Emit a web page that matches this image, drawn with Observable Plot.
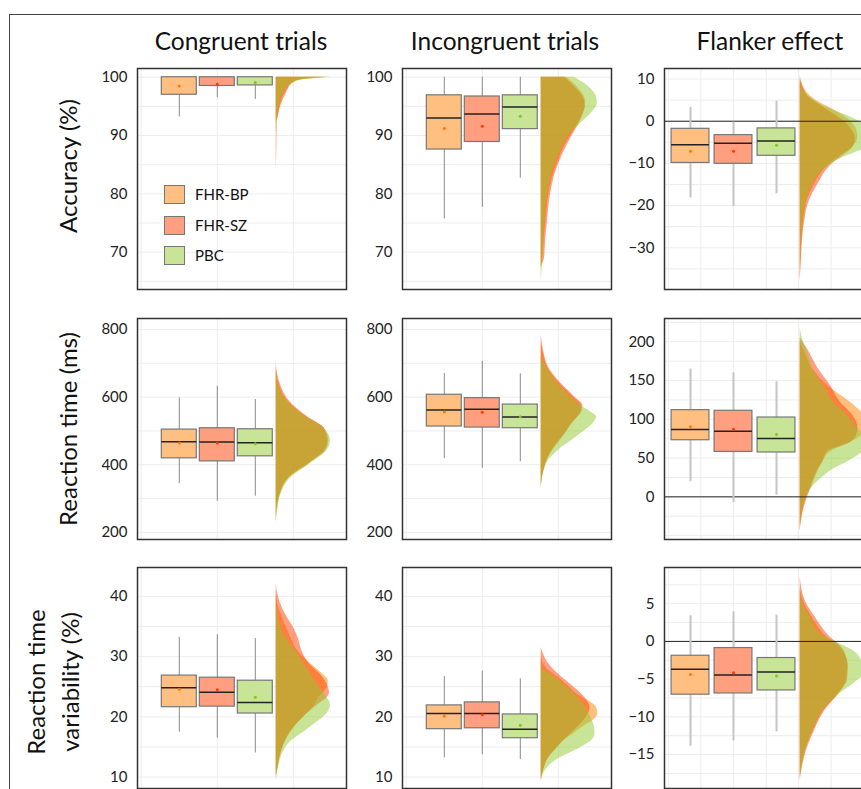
<!DOCTYPE html>
<html><head><meta charset="utf-8">
<script src="https://cdn.jsdelivr.net/npm/d3@7"></script>
<script src="https://cdn.jsdelivr.net/npm/@observablehq/plot@0.6"></script>
<style>
body{margin:0;background:#fff;}
#fig{position:relative;width:861px;height:789px;overflow:hidden;background:#fff;font-family:Lato,"Open Sans",sans-serif;color:#111;}
.fl{position:absolute;background:#444;}
.title{position:absolute;font-size:24.5px;line-height:26px;text-align:center;width:280px;white-space:nowrap;}
.rowlab{position:absolute;font-size:24px;text-align:center;white-space:nowrap;transform:rotate(-90deg);}
.pnl{position:absolute;}
.pnl svg{max-width:none !important;}
.legsq{position:absolute;width:19px;height:17px;border:1px solid #777;}
.legtx{position:absolute;font-size:15px;line-height:18px;color:#111;}
</style></head><body><div id="fig"></div>
<script>
// ---------- data ----------
const groups = ["FHR-BP", "FHR-SZ", "PBC"];
const colTitles = ["Congruent trials", "Incongruent trials", "Flanker effect"];
const rowTitles = [["Accuracy (%)"], ["Reaction time (ms)"], ["Reaction time", "variability (%)"]];

// box stats per group: [lowWhisker, q1, median, q3, highWhisker, mean]
const box_acc_con = [[93.2,97.0,100,100,100,98.5],[96.5,98.5,100,100,100,98.8],[96.2,98.6,100,100,100,99.1]];
const box_acc_inc = [[75.7,87.6,93.0,96.9,100,91.2],[77.7,88.9,93.7,96.7,100,91.6],[82.7,91.1,94.9,96.9,100,93.3]];
const box_acc_fla = [[-18.2,-9.9,-5.6,-1.8,3.3,-7.1],[-20.2,-10.1,-5.2,-3.3,-0.2,-7.1],[-17.2,-8.2,-4.7,-1.7,4.75,-5.7]];
const box_rt_con = [[344,419,468,504,598,464],[292,410,467,508,632,464],[307,425,465,505,593,462]];
const box_rt_inc = [[418,513,562,607,670,556],[390,510,564,597,706,555],[409,508,541,578,669,542]];
const box_rt_fla = [[19.4,73,86.9,111.8,164.8,90.3],[-7.3,58,84.7,111,160,87.3],[2.2,57.2,75.3,102.3,148.4,80.4]];
const box_cv_con = [[17.45,21.6,24.85,26.85,33.2,24.6],[16.45,21.7,24.1,26.5,33.65,24.5],[14.0,20.55,22.4,26.0,33.0,23.25]];
const box_cv_inc = [[13.2,17.95,20.55,21.9,26.7,20.1],[13.7,18.1,20.55,22.4,27.6,20.35],[12.9,16.45,17.95,20.4,26.3,18.6]];
const box_cv_fla = [[-13.9,-7.06,-3.7,-1.9,3.4,-4.4],[-13.2,-6.9,-4.45,-0.88,3.93,-4.15],[-12.0,-6.5,-4.05,-2.2,3.5,-4.6]];

// density profiles (value, relative density) per group: BP, SZ, PBC
const dens_acc_con = [
  [[100,1.0],[99.5,0.42],[99,0.3],[98,0.2],[97,0.14],[96,0.1],[95,0.07],[94,0.05],[93,0.03],[92.5,0]],
  [[100,0.9],[99.5,0.4],[99,0.3],[98,0.22],[97,0.17],[96,0.12],[95,0.08],[94,0.05],[93,0.03],[92,0.015],[88,0.012],[84,0]],
  [[100,1.0],[99.5,0.45],[99,0.3],[98,0.18],[97,0.12],[96,0.08],[95,0.05],[94,0.03],[93,0.02],[91,0.012],[90.5,0]]
];
const dens_acc_inc = [
  [[100,0.46],[98,0.68],[96,0.8],[95,0.8],[94,0.76],[92,0.66],[90,0.53],[88,0.41],[86,0.32],[84,0.24],[82,0.18],[80,0.14],[78,0.11],[75,0.08],[72,0.05],[69,0.03],[67,0]],
  [[100,0.42],[98,0.64],[96,0.78],[95,0.79],[94,0.77],[92,0.68],[90,0.56],[88,0.45],[86,0.35],[84,0.27],[82,0.21],[80,0.17],[78,0.14],[75,0.11],[72,0.08],[69,0.06],[67.5,0]],
  [[100,0.6],[98,0.9],[96.5,1.0],[95.5,1.01],[94,0.92],[92,0.7],[90,0.5],[88,0.38],[86,0.29],[84,0.21],[82,0.16],[80,0.12],[78,0.09],[75,0.065],[72,0.045],[68,0.025],[65,0]]
];
const dens_acc_fla = [
  [[11,0],[9,0.03],[7,0.1],[5,0.25],[3,0.5],[1,0.72],[0,0.8],[-2,0.9],[-4,0.92],[-6,0.84],[-8,0.66],[-10,0.48],[-12,0.35],[-14,0.26],[-16,0.19],[-18,0.13],[-20,0.09],[-23,0.06],[-26,0.04],[-30,0.02],[-34,0.01],[-38,0]],
  [[10,0],[8,0.05],[6,0.12],[4,0.3],[2,0.5],[0,0.7],[-2,0.82],[-4,0.88],[-6,0.85],[-8,0.7],[-10,0.52],[-12,0.4],[-14,0.32],[-16,0.24],[-18,0.17],[-20,0.12],[-23,0.08],[-26,0.05],[-30,0.03],[-34,0.015],[-38,0]],
  [[9,0],[7,0.07],[5,0.22],[3,0.46],[1,0.8],[-1,1.05],[-3,1.2],[-4,1.22],[-5,1.18],[-7,0.95],[-9,0.62],[-11,0.42],[-13,0.28],[-15,0.2],[-17,0.14],[-20,0.08],[-24,0.04],[-30,0.015],[-36,0]]
];
const dens_rt_con = [
  [[690,0],[640,0.05],[590,0.2],[541,0.55],[507,0.87],[472,0.95],[443,0.9],[404,0.58],[364,0.24],[315,0.07],[250,0]],
  [[703,0],[640,0.07],[590,0.23],[541,0.57],[507,0.87],[472,0.93],[443,0.88],[404,0.6],[364,0.25],[315,0.08],[235,0]],
  [[680,0],[640,0.04],[590,0.19],[541,0.54],[507,0.86],[472,0.98],[443,0.92],[404,0.62],[364,0.28],[315,0.09],[270,0.03],[227,0]]
];
const dens_rt_inc = [
  [[760,0],[720,0.05],[689,0.11],[640,0.33],[600,0.58],[575,0.72],[560,0.72],[541,0.66],[520,0.54],[492,0.43],[472,0.32],[450,0.22],[433,0.16],[410,0.09],[393,0.06],[370,0.03],[330,0]],
  [[785,0],[740,0.04],[689,0.13],[640,0.36],[600,0.61],[575,0.75],[560,0.74],[541,0.66],[520,0.55],[492,0.43],[472,0.34],[450,0.24],[433,0.17],[410,0.1],[393,0.07],[370,0.03],[340,0]],
  [[720,0],[689,0.09],[640,0.3],[600,0.54],[575,0.72],[555,0.9],[541,1.0],[525,0.95],[505,0.82],[492,0.71],[472,0.55],[450,0.36],[433,0.25],[410,0.12],[390,0.06],[360,0.02],[320,0]]
];
const dens_rt_fla = [
  [[200,0],[185,0.08],[165,0.2],[144,0.43],[122,0.8],[105,1.02],[95,1.08],[85,1.05],[70,0.8],[58,0.48],[45,0.36],[36,0.28],[25,0.22],[15,0.18],[0,0.1],[-15,0.05],[-30,0.02],[-45,0]],
  [[205,0],[190,0.12],[165,0.29],[144,0.48],[122,0.64],[105,0.84],[90,0.92],[80,0.9],[70,0.8],[58,0.43],[45,0.36],[36,0.3],[25,0.24],[15,0.19],[0,0.12],[-15,0.06],[-30,0.02],[-45,0]],
  [[217,0],[200,0.05],[185,0.12],[165,0.2],[144,0.37],[122,0.53],[105,0.75],[88,0.92],[78,1.05],[68,1.1],[58,1.0],[45,0.75],[36,0.53],[25,0.35],[15,0.22],[0,0.1],[-15,0.04],[-40,0]]
];
const dens_cv_con = [
  [[41,0],[38,0.05],[36.5,0.11],[33,0.27],[31,0.38],[29,0.6],[27,0.85],[26,0.94],[25,0.92],[24,0.85],[23,0.75],[22,0.7],[21,0.6],[20,0.5],[18,0.3],[16,0.16],[14,0.08],[12,0.04],[10,0]],
  [[42,0],[39,0.07],[36.5,0.2],[35,0.3],[33,0.4],[31,0.46],[29,0.58],[27,0.8],[25,0.94],[24,0.96],[23,0.9],[22,0.75],[21,0.62],[20,0.5],[18,0.3],[16,0.17],[14,0.09],[12,0.04],[10,0]],
  [[40,0],[36,0.05],[33,0.18],[31,0.34],[28,0.56],[26,0.7],[24.4,0.82],[23,0.93],[22,0.98],[21,0.95],[20,0.86],[19,0.72],[17.5,0.5],[16,0.27],[14,0.12],[12,0.05],[10,0.01],[9.5,0]]
];
const dens_cv_inc = [
  [[30,0],[28,0.1],[26.6,0.3],[25,0.5],[23.8,0.64],[22.5,0.88],[21.5,1.0],[20.5,1.02],[19.5,0.95],[18.5,0.78],[17,0.55],[16,0.4],[15,0.3],[13,0.12],[11,0.04],[9.5,0]],
  [[31.5,0],[29,0.12],[26.6,0.37],[25,0.58],[23.8,0.73],[22.5,0.84],[21.5,0.88],[20.5,0.85],[19.5,0.78],[17.5,0.57],[16,0.4],[15,0.3],[13,0.12],[11,0.04],[9.5,0]],
  [[28,0],[26.6,0.25],[25,0.45],[23.8,0.6],[22.5,0.72],[21.6,0.8],[20.5,0.86],[19.4,0.92],[18.3,0.96],[17.2,0.97],[16,0.9],[15,0.73],[14,0.52],[13,0.3],[12,0.16],[11,0.07],[10,0.02],[9.2,0]]
];
const dens_cv_fla = [
  [[7,0],[5.4,0.05],[3.2,0.19],[1,0.37],[-1.2,0.68],[-3.4,0.77],[-5.2,0.75],[-7,0.6],[-9.2,0.37],[-11.8,0.21],[-14.5,0.08],[-16.5,0.03],[-18,0]],
  [[8.6,0],[5.4,0.08],[3.2,0.24],[1,0.43],[-1.2,0.7],[-3.4,0.76],[-5.2,0.74],[-7,0.61],[-9.2,0.39],[-11.8,0.23],[-14.5,0.1],[-16.5,0.04],[-18.5,0]],
  [[7,0],[5,0.04],[3.2,0.17],[1,0.33],[0,0.55],[-1.2,0.84],[-2.5,0.98],[-3.4,1.02],[-4.5,1.0],[-5.2,0.91],[-7,0.62],[-9.2,0.36],[-11.8,0.2],[-14.5,0.08],[-16.5,0.03],[-18,0]]
];

// y-axis domains and tick labels
const dom_acc = [63.6, 101.5], ticks_acc = [70, 80, 90, 100];
const dom_acc_fla = [-39.9, 12.5], ticks_acc_fla = [-30, -20, -10, 0, 10];
const dom_rt = [179, 832.5], ticks_rt = [200, 400, 600, 800];
const dom_rt_fla = [-55, 230], ticks_rt_fla = [0, 50, 100, 150, 200];
const dom_cv = [8.1, 44.8], ticks_cv = [10, 20, 30, 40];
const dom_cv_fla = [-19.5, 9.8], ticks_cv_fla = [-15, -10, -5, 0, 5];

// ---------- style ----------
const violinColors = ["#ff8000", "#ff4000", "#91c92d"];
const boxColors = ["#ffbf80", "#ff9f7f", "#c8e496"];
const dotColors = ["#ff7a00", "#ff3a00", "#86c025"];
const colX = [137, 402, 664], colW = [209, 209, 236];
const rowY = [68, 318, 567], PH = 221;
const VB = 3.55, VW = 1.46;

const fig = document.getElementById("fig");
function add(html) { const d = document.createElement("div"); d.innerHTML = html; fig.appendChild(d.firstElementChild); }

// outer frame lines
add(`<div class="fl" style="left:9px;top:14px;width:900px;height:1px"></div>`);
add(`<div class="fl" style="left:9px;top:14px;width:1px;height:800px"></div>`);

// column titles
const titleCx = [241, 505, 770];
colTitles.forEach((t, i) => add(`<div class="title" style="left:${titleCx[i] - 140}px;top:28px">${t}</div>`));

// row labels
const rowCx = [68, 68, 53], rowCy = [166, 429, 682];
rowTitles.forEach((lines, i) => {
  const w = 260, lh = 34, h = lines.length * lh;
  add(`<div class="rowlab" style="left:${rowCx[i] - w / 2}px;top:${rowCy[i] - h / 2}px;width:${w}px;height:${h}px;line-height:${lh}px">${lines.join("<br>")}</div>`);
});

function panel(box, dens, domain, ticks, row, col) {
  const pw = colW[col], isFla = col === 2;
  const xdom = isFla ? [0.395, 0.395 + pw / 43] : [-0.1, -0.1 + pw / 38];
  const hw = isFla ? 0.44 : 0.46;
  const step = ticks[1] - ticks[0];
  const grid = [];
  for (let v = ticks[0] - step; v <= domain[1] + 1e-9; v += step / 2) if (v >= domain[0]) grid.push(v);
  const xgrid = isFla ? [0.49, 1.24, 2, 2.76, 3.51, 4.27, 5.02, 5.78] : [0, 2, 4];
  const marks = [
    Plot.ruleY(grid, {stroke: "#ededed", strokeWidth: 1}),
    Plot.ruleX(xgrid, {stroke: "#ededed", strokeWidth: 1}),
  ];
  groups.forEach((g, i) => {
    const pts = d3.sort(dens[i].map(([y, w]) => ({y, w})), d => d.y);
    marks.push(Plot.areaX(pts, {y: "y", x1: () => VB, x2: d => VB + d.w * VW, fill: violinColors[i], fillOpacity: 0.5, curve: "monotone-y"}));
  });
  if (isFla) marks.push(Plot.ruleY([0], {stroke: "#222", strokeWidth: 1}));
  groups.forEach((g, i) => {
    const [lo, q1, med, q3, hi, mean] = box[i];
    const d = [{pos: i + 1, lo, q1, med, q3, hi, mean}];
    marks.push(
      Plot.ruleX(d, {x: "pos", y1: "lo", y2: "hi", stroke: isFla ? "#c4c4c4" : "#8a8a8a", strokeWidth: isFla ? 2 : 1}),
      Plot.rect(d, {x1: r => r.pos - hw, x2: r => r.pos + hw, y1: "q1", y2: "q3", fill: boxColors[i], stroke: "#777", strokeWidth: 1.2})
    );
    if (med < q3) marks.push(Plot.ruleY(d, {x1: r => r.pos - hw, x2: r => r.pos + hw, y: "med", stroke: "#222", strokeWidth: 1.5}));
    marks.push(Plot.dot(d, {x: "pos", y: "mean", r: 1.5, fill: dotColors[i], stroke: "none"}));
  });
  marks.push(
    Plot.axisY(ticks, {anchor: "left", tickSize: 0, tickPadding: 10, fontSize: 15, label: null}),
    Plot.frame({stroke: "#333", strokeWidth: 1.5})
  );
  const ML = 60;
  const W = ML + pw + 2;
  const svg = Plot.plot({
    width: W, height: PH + 4,
    marginLeft: ML, marginRight: 2, marginTop: 2, marginBottom: 2,
    x: {domain: xdom, axis: null},
    y: {domain},
    style: {fontFamily: "Lato, 'Open Sans', sans-serif", fontSize: "15px", color: "#222", background: "transparent", overflow: "visible"},
    marks
  });
  svg.style.maxWidth = "none";
  svg.setAttribute("width", W);
  const wrap = document.createElement("div");
  wrap.className = "pnl";
  wrap.style.left = (colX[col] - ML) + "px";
  wrap.style.top = (rowY[row] - 2) + "px";
  wrap.style.width = W + "px";
  wrap.appendChild(svg);
  fig.appendChild(wrap);
}

panel(box_acc_con, dens_acc_con, dom_acc, ticks_acc, 0, 0);
panel(box_acc_inc, dens_acc_inc, dom_acc, ticks_acc, 0, 1);
panel(box_acc_fla, dens_acc_fla, dom_acc_fla, ticks_acc_fla, 0, 2);
panel(box_rt_con, dens_rt_con, dom_rt, ticks_rt, 1, 0);
panel(box_rt_inc, dens_rt_inc, dom_rt, ticks_rt, 1, 1);
panel(box_rt_fla, dens_rt_fla, dom_rt_fla, ticks_rt_fla, 1, 2);
panel(box_cv_con, dens_cv_con, dom_cv, ticks_cv, 2, 0);
panel(box_cv_inc, dens_cv_inc, dom_cv, ticks_cv, 2, 1);
panel(box_cv_fla, dens_cv_fla, dom_cv_fla, ticks_cv_fla, 2, 2);

// legend (inside first panel)
const legY = [185, 216, 246];
groups.forEach((g, i) => {
  add(`<div class="legsq" style="left:164px;top:${legY[i]}px;background:${boxColors[i]}"></div>`);
  add(`<div class="legtx" style="left:195px;top:${legY[i]}px">${g}</div>`);
});
</script></body></html>
